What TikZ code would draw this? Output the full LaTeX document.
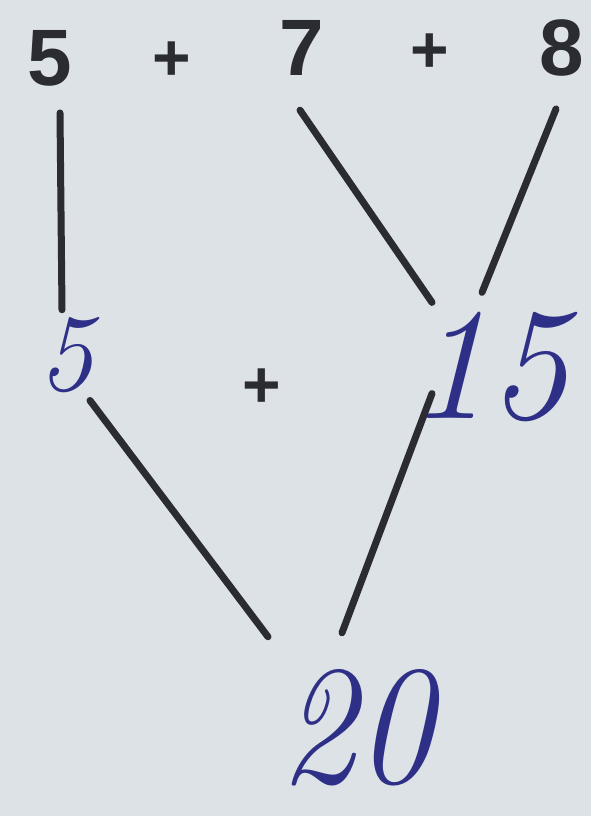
\documentclass[tikz,border=0pt]{standalone}
\usepackage{fontspec}
\setmainfont{Liberation Sans}
\newfontfamily\handfont{Latin Modern Roman}
\definecolor{paper}{HTML}{DDE2E6}
\definecolor{ink}{HTML}{2B2B33}
\definecolor{pen}{HTML}{2E2F86}
\tikzset{
  printed/.style={font=\fontsize{80}{80}\selectfont\bfseries, text=ink, inner sep=0pt, anchor=base},
  plussign/.style={font=\fontsize{66}{66}\selectfont\bfseries, text=ink, inner sep=0pt, anchor=base},
  hand/.style={text=pen, inner sep=0pt, anchor=base},
  link/.style={draw=ink, line width=7pt, line cap=round}
}
\begin{document}
\begin{tikzpicture}[x=1pt,y=-1pt]
\useasboundingbox[fill=paper] (0,0) rectangle (591,816);
% printed top row
\node[printed] (a) at (50,85) {5};
\node[plussign] (p1) at (172,80) {+};
\node[printed] (b) at (302,75) {7};
\node[plussign] (p2) at (430,73) {+};
\node[printed] (c) at (562,75) {8};
% middle row
\node[hand, font=\fontsize{110}{110}\selectfont\handfont\itshape] (m) at (66,390) {5};
\node[plussign] (p3) at (262,407) {+};
\node[hand, font=\fontsize{160}{160}\selectfont\handfont\itshape] (s) at (488,418) {15};
% bottom
\node[hand, font=\fontsize{170}{170}\selectfont\handfont\itshape, xscale=0.9] (r) at (356,782) {20};
% connectors
\draw[link] ([shift={(10,27)}]a.south) -- ([shift={(-4,-7)}]m.north);
\draw[link] ([shift={(-2,35)}]b.south) -- ([shift={(-56,-9)}]s.north);
\draw[link] ([shift={(-6,33)}]c.south) -- ([shift={(-6,-19)}]s.north);
\draw[link] ([shift={(24,8)}]m.south) -- ([shift={(-88,-32)}]r.north);
\draw[link] ([shift={(-56,-28)}]s.south) -- ([shift={(-14,-36)}]r.north);
\end{tikzpicture}
\end{document}
